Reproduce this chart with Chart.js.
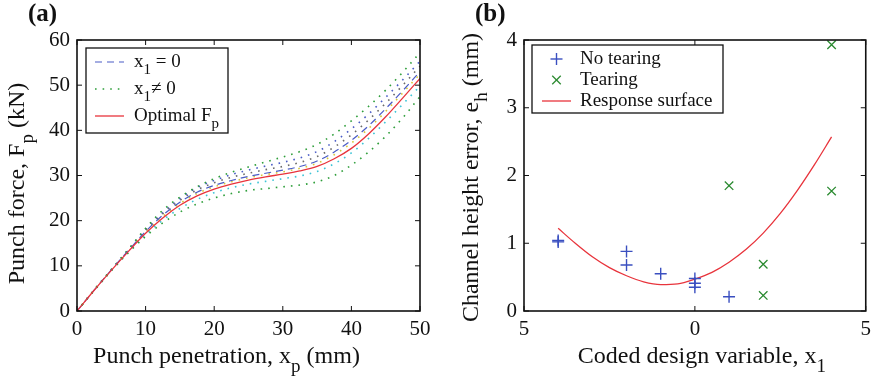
<!DOCTYPE html>
<html>
<head>
<meta charset="utf-8">
<script src="https://cdn.jsdelivr.net/npm/chart.js@4.4.1/dist/chart.umd.min.js"></script>
<style>
  body { margin: 0; background: #fff; width: 877px; height: 377px; overflow: hidden; position: relative; }
  canvas { position: absolute; top: 0; }
  #chartA { left: 0; }
  #chartB { left: 440px; }
</style>
</head>
<body>
<canvas id="chartA" width="440" height="377"></canvas>
<canvas id="chartB" width="437" height="377"></canvas>
<script>
// panel (a): punch force vs penetration
const penetration = [0, 2.5, 5, 7.5, 10, 12.5, 15, 17.5, 20, 22.5, 25, 27.5, 30, 32.5, 35, 37.5, 40, 42.5, 45, 47.5, 50];
const optimalForce = [0, 4.6, 9.0, 13.2, 17.2, 20.6, 23.4, 25.5, 27.0, 28.1, 29.0, 29.7, 30.3, 31.0, 32.0, 33.7, 36.0, 39.2, 43.0, 47.2, 51.5];
const forceX1Zero = [0, 4.6, 9.1, 13.4, 17.6, 21.2, 24.1, 26.3, 27.8, 28.9, 29.8, 30.5, 31.2, 32.0, 33.2, 35.2, 37.8, 41.0, 44.8, 48.8, 53.0];
const forceUpper = [0, 4.7, 9.2, 13.7, 18.3, 22.3, 25.2, 27.5, 29.3, 30.7, 31.9, 33.0, 34.1, 35.3, 36.9, 39.2, 42.1, 45.3, 48.9, 52.9, 57.2];
const forceLower = [0, 4.5, 8.9, 12.9, 16.5, 19.5, 21.9, 23.7, 25.0, 26.0, 26.7, 27.1, 27.5, 27.9, 28.6, 30.0, 32.3, 35.2, 38.7, 42.8, 47.5];
const forceCyan = [0, 4.6, 9.0, 13.1, 16.9, 20.1, 22.7, 24.7, 26.2, 27.3, 28.1, 28.7, 29.3, 29.9, 30.9, 32.6, 35.0, 38.2, 41.9, 45.8, 49.8];
const forceYellow = [0, 4.6, 9.0, 13.3, 17.4, 20.9, 23.8, 26.0, 27.5, 28.6, 29.5, 30.2, 30.8, 31.6, 32.7, 34.6, 37.2, 40.4, 44.2, 48.3, 52.5];
const forceGray = [0, 4.6, 9.1, 13.5, 17.8, 21.5, 24.5, 26.8, 28.4, 29.6, 30.5, 31.3, 32.0, 32.9, 34.2, 36.3, 39.0, 42.3, 46.0, 50.0, 54.2];
const forceBlueDot = [0, 4.6, 9.1, 13.5, 18.0, 21.8, 24.9, 27.3, 28.9, 30.2, 31.2, 32.1, 32.9, 33.9, 35.3, 37.5, 40.3, 43.6, 47.3, 51.2, 55.3];

// panel (b): channel height error vs coded variable
const noTearX = [-4, -4, -2, -2, -1, 0, 0, 0, 1];
const noTearY = [1.04, 1.02, 0.88, 0.68, 0.55, 0.48, 0.41, 0.35, 0.21];
const tearX = [1, 2, 2, 4, 4];
const tearY = [1.85, 0.69, 0.23, 1.77, 3.93];
const surfaceX = [-4, -3.5, -3, -2.5, -2, -1.5, -1, -0.5, 0, 0.5, 1, 1.5, 2, 2.5, 3, 3.5, 4];
const surfaceY = [1.22, 1.0, 0.80, 0.64, 0.52, 0.43, 0.39, 0.40, 0.47, 0.57, 0.72, 0.91, 1.15, 1.44, 1.78, 2.16, 2.57];

const FONT = '"Liberation Serif", "Times New Roman", serif';
const pts = (xs, ys) => xs.map((x, i) => ({ x: x, y: ys[i] }));

function richText(ctx, parts, x, y, size, align) {
  const main = size + 'px ' + FONT;
  const small = Math.round(size * 0.8) + 'px ' + FONT;
  let w = 0;
  const widths = parts.map(p => {
    ctx.font = p[1] ? small : main;
    const pw = ctx.measureText(p[0]).width;
    w += pw;
    return pw;
  });
  let cx = align === 'center' ? x - w / 2 : x;
  ctx.textAlign = 'left';
  ctx.textBaseline = 'middle';
  parts.forEach((p, i) => {
    ctx.font = p[1] ? small : main;
    ctx.fillText(p[0], cx, p[1] ? y + size * 0.42 : y);
    cx += widths[i];
  });
}

function seg(ctx, x1, y1, x2, y2) {
  ctx.beginPath();
  ctx.moveTo(x1, y1);
  ctx.lineTo(x2, y2);
  ctx.stroke();
}

// box, inward ticks, titles and legend, matlab style
const frame = {
  id: 'frame',
  afterDraw(chart, args, o) {
    const { ctx, chartArea: a, scales: { x, y } } = chart;
    ctx.save();
    ctx.strokeStyle = '#111';
    ctx.lineWidth = 1;
    x.ticks.forEach(t => {
      const px = x.getPixelForValue(t.value);
      seg(ctx, px, a.bottom, px, a.bottom - 5);
      seg(ctx, px, a.top, px, a.top + 5);
    });
    y.ticks.forEach(t => {
      const py = y.getPixelForValue(t.value);
      seg(ctx, a.left, py, a.left + 5, py);
      seg(ctx, a.right, py, a.right - 5, py);
    });
    ctx.lineWidth = 1.6;
    ctx.strokeRect(a.left, a.top, a.right - a.left, a.bottom - a.top);

    ctx.fillStyle = '#111';
    ctx.font = 'bold 25px ' + FONT;
    ctx.textAlign = 'left';
    ctx.textBaseline = 'middle';
    ctx.fillText(o.label, o.labelX, 15);

    richText(ctx, o.xTitle, (a.left + a.right) / 2 + o.xTitleShift, 357, 24, 'center');
    ctx.save();
    ctx.translate(o.yTitleX, (a.top + a.bottom) / 2 + o.yTitleShift);
    ctx.rotate(-Math.PI / 2);
    richText(ctx, o.yTitle, 0, 0, 24, 'center');
    ctx.restore();

    const lg = o.legend;
    ctx.fillStyle = '#fff';
    ctx.fillRect(lg.box[0], lg.box[1], lg.box[2], lg.box[3]);
    ctx.lineWidth = 1.3;
    ctx.strokeStyle = '#111';
    ctx.strokeRect(lg.box[0], lg.box[1], lg.box[2], lg.box[3]);
    lg.items.forEach(it => {
      const ds = chart.data.datasets[it.ds];
      if (it.kind === 'line') {
        ctx.save();
        ctx.strokeStyle = ds.borderColor;
        ctx.lineWidth = ds.borderWidth;
        ctx.setLineDash(ds.borderDash || []);
        seg(ctx, lg.x0, it.y, lg.x1, it.y);
        ctx.restore();
      } else {
        const r = ds.pointRadius;
        ctx.save();
        ctx.strokeStyle = ds.borderColor;
        ctx.lineWidth = ds.borderWidth;
        const cx = (lg.x0 + lg.x1) / 2;
        if (ds.pointStyle === 'cross') {
          seg(ctx, cx - r, it.y, cx + r, it.y);
          seg(ctx, cx, it.y - r, cx, it.y + r);
        } else {
          const d = r * 0.707;
          seg(ctx, cx - d, it.y - d, cx + d, it.y + d);
          seg(ctx, cx - d, it.y + d, cx + d, it.y - d);
        }
        ctx.restore();
      }
      ctx.fillStyle = '#111';
      richText(ctx, it.label, lg.tx, it.y, 19, 'left');
    });
    ctx.restore();
  }
};

function fixedScales(xOpts, yOpts, yWidth) {
  return {
    x: Object.assign({
      type: 'linear',
      grid: { display: false, drawTicks: false },
      border: { display: false },
      afterFit: s => { s.height = 66; }
    }, xOpts),
    y: Object.assign({
      type: 'linear',
      grid: { display: false, drawTicks: false },
      border: { display: false },
      afterFit: s => { s.width = yWidth; }
    }, yOpts)
  };
}

const tickFont = { family: FONT, size: 21 };

const dotted = (color, ys) => ({
  data: pts(penetration, ys), showLine: true, borderColor: color, borderWidth: 1.6,
  borderDash: [1.6, 6], pointRadius: 0, cubicInterpolationMode: 'monotone'
});

new Chart(document.getElementById('chartA'), {
  type: 'scatter',
  data: {
    datasets: [
      { data: pts(penetration, optimalForce), showLine: true, borderColor: '#e8343c', borderWidth: 1.3, pointRadius: 0, cubicInterpolationMode: 'monotone' },
      { data: pts(penetration, forceX1Zero), showLine: true, borderColor: '#4a5cc6', borderWidth: 1.2, borderDash: [7, 5], pointRadius: 0, cubicInterpolationMode: 'monotone' },
      dotted('#2e9e3a', forceUpper),
      dotted('#2e9e3a', forceLower),
      dotted('#3cc4d6', forceCyan),
      dotted('#d6c83a', forceYellow),
      dotted('#6a6a6a', forceGray),
      dotted('#4a5cc6', forceBlueDot)
    ]
  },
  options: {
    responsive: false,
    animation: false,
    layout: { padding: { left: 0, top: 40, right: 20, bottom: 0 } },
    scales: fixedScales(
      { min: 0, max: 50, ticks: { color: '#111', font: tickFont, padding: 6, stepSize: 10, autoSkip: false, maxRotation: 0 } },
      { min: 0, max: 60, ticks: { color: '#111', font: tickFont, padding: 7, stepSize: 10, autoSkip: false } },
      77
    ),
    plugins: {
      legend: { display: false },
      tooltip: { enabled: false },
      frame: {
        label: '(a)', labelX: 28, xTitleShift: -22, yTitleX: 18, yTitleShift: 8,
        xTitle: [['Punch penetration, x'], ['p', 1], [' (mm)']],
        yTitle: [['Punch force, F'], ['p', 1], [' (kN)']],
        legend: {
          box: [86, 48, 142, 85], x0: 95, x1: 124, tx: 134,
          items: [
            { y: 62, kind: 'line', ds: 1, label: [['x'], ['1', 1], [' = 0']] },
            { y: 89, kind: 'line', ds: 2, label: [['x'], ['1', 1], ['\u2260 0']] },
            { y: 116, kind: 'line', ds: 0, label: [['Optimal F'], ['p', 1]] }
          ]
        }
      }
    }
  },
  plugins: [frame]
});

new Chart(document.getElementById('chartB'), {
  type: 'scatter',
  data: {
    datasets: [
      { data: pts(noTearX, noTearY), borderColor: '#3a4fc0', backgroundColor: '#3a4fc0', pointStyle: 'cross', pointRadius: 6, borderWidth: 1.4 },
      { data: pts(tearX, tearY), borderColor: '#2a8a30', backgroundColor: '#2a8a30', pointStyle: 'crossRot', pointRadius: 6, borderWidth: 1.3 },
      { data: pts(surfaceX, surfaceY), showLine: true, borderColor: '#e8343c', borderWidth: 1.3, pointRadius: 0, cubicInterpolationMode: 'monotone' }
    ]
  },
  options: {
    responsive: false,
    animation: false,
    layout: { padding: { left: 0, top: 40, right: 9, bottom: 0 } },
    scales: fixedScales(
      { min: -5, max: 5, ticks: { color: '#111', font: tickFont, padding: 6, stepSize: 5, autoSkip: false, maxRotation: 0, callback: v => String(Math.abs(v)) } },
      { min: 0, max: 4, ticks: { color: '#111', font: tickFont, padding: 7, stepSize: 1, autoSkip: false } },
      84
    ),
    plugins: {
      legend: { display: false },
      tooltip: { enabled: false },
      frame: {
        label: '(b)', labelX: 35, xTitleShift: 7, yTitleX: 32, yTitleShift: 2,
        xTitle: [['Coded design variable, x'], ['1', 1]],
        yTitle: [['Channel height error, e'], ['h', 1], [' (mm)']],
        legend: {
          box: [92, 45, 191, 68], x0: 102, x1: 131, tx: 140,
          items: [
            { y: 59, kind: 'point', ds: 0, label: [['No tearing']] },
            { y: 80, kind: 'point', ds: 1, label: [['Tearing']] },
            { y: 101, kind: 'line', ds: 2, label: [['Response surface']] }
          ]
        }
      }
    }
  },
  plugins: [frame]
});
</script>
</body>
</html>
